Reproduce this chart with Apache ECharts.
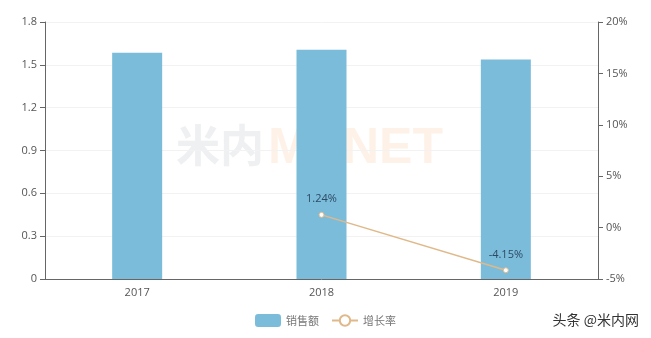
<!DOCTYPE html>
<html><head><meta charset="utf-8">
<script src="https://cdn.jsdelivr.net/npm/echarts@6/dist/echarts.min.js"></script>
<style>html,body{margin:0;padding:0;background:#fff}#c{width:651px;height:338px}</style>
</head><body><div id="c"></div>
<script>
var categories = ['2017', '2018', '2019'];
var sales = [1.585, 1.605, 1.538];
var growth = [null, 1.24, -4.15];
var leftTicks = [0, 0.3, 0.6, 0.9, 1.2, 1.5, 1.8];
var rightTicks = [-5, 0, 5, 10, 15, 20];

var chart = echarts.init(document.getElementById('c'));
var axisLabel = {color: '#555', fontSize: 11, fontFamily: 'Open Sans, sans-serif'};
chart.setOption({
  animation: false,
  grid: {left: 45, right: 53, top: 22, bottom: 59},
  graphic: [
    {type: 'text', left: 176, top: 123, z: -1, silent: true,
     style: {text: '米内', font: 'bold 44px "Noto Sans CJK SC"', fill: '#eef0f2'}},
    {type: 'text', left: 268, top: 124, z: -1, silent: true,
     style: {text: 'MENET', font: 'bold 50px "Liberation Sans"', fill: '#fef2e8'}},
    {type: 'text', right: 12, top: 313,
     style: {text: '头条 @米内网', font: '14px "Noto Sans CJK SC"', fill: '#333'}}
  ],
  legend: {
    bottom: 6, left: 'center', itemWidth: 26, itemHeight: 13, itemGap: 12,
    textStyle: {color: '#777', fontSize: 11, fontFamily: 'Noto Sans CJK SC'},
    data: [{name: '销售额', icon: 'roundRect'}, {name: '增长率'}]
  },
  xAxis: {
    type: 'category', data: categories,
    axisLine: {lineStyle: {color: '#666'}},
    axisTick: {lineStyle: {color: '#666'}},
    axisLabel: axisLabel
  },
  yAxis: [
    {type: 'value', min: 0, max: 1.8, interval: 0.3,
     axisLine: {show: true, lineStyle: {color: '#666'}},
     axisTick: {show: true, lineStyle: {color: '#666'}},
     splitLine: {lineStyle: {color: '#f2f2f2'}},
     axisLabel: axisLabel},
    {type: 'value', min: -5, max: 20, interval: 5,
     axisLine: {show: true, lineStyle: {color: '#666'}},
     axisTick: {show: true, lineStyle: {color: '#666'}},
     splitLine: {show: false},
     axisLabel: Object.assign({formatter: '{value}%'}, axisLabel)}
  ],
  series: [
    {name: '销售额', type: 'bar', data: sales, barWidth: 50,
     itemStyle: {color: '#7bbcda'}},
    {name: '增长率', type: 'line', yAxisIndex: 1, data: growth,
     symbol: 'circle', symbolSize: 5, showAllSymbol: true,
     lineStyle: {color: '#e0b98a', width: 1.5},
     itemStyle: {color: '#fff', borderColor: '#e0b98a', borderWidth: 1},
     label: {show: true, position: 'top', distance: 7, formatter: function(p){return p.value.toFixed(2) + '%';},
             color: '#2d4a63', fontSize: 11, fontFamily: 'Open Sans, sans-serif'}}
  ]
});
</script></body></html>
